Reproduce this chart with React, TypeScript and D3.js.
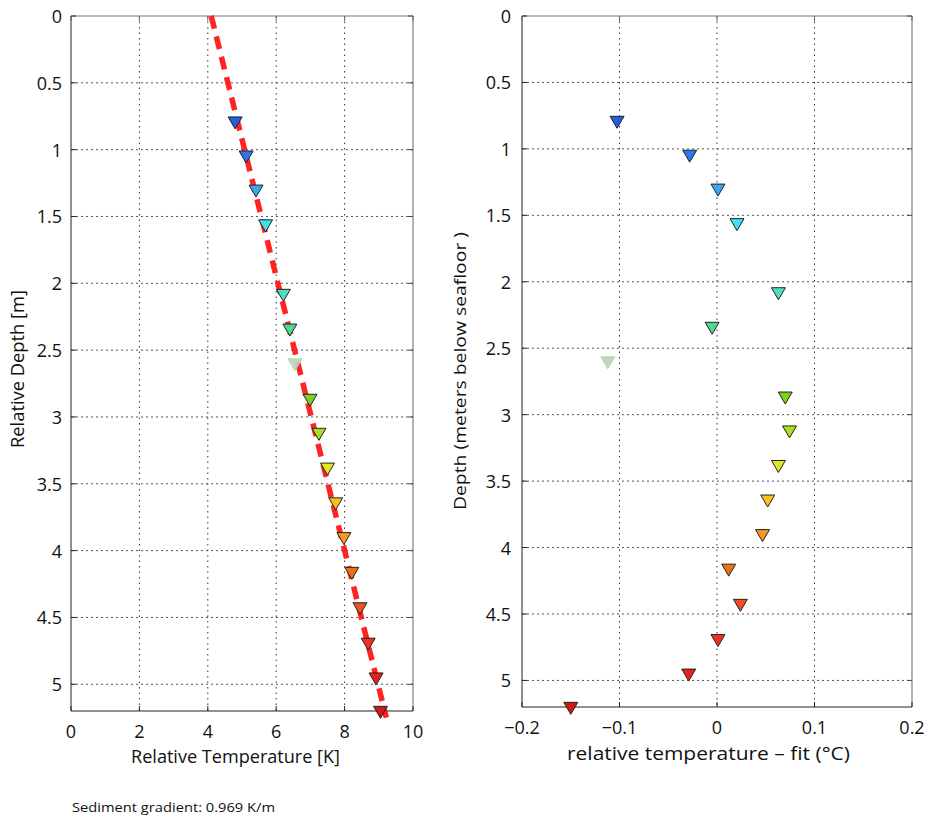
import React from "react";
import * as d3 from "d3";

// ---- data ----
const depths = [0.8, 1.055, 1.31, 1.57, 2.09, 2.35, 2.61, 2.875, 3.13, 3.39, 3.65, 3.91, 4.17, 4.435, 4.7, 4.96, 5.21];
const temps = [4.8, 5.12, 5.41, 5.69, 6.21, 6.4, 6.55, 6.99, 7.25, 7.5, 7.74, 7.98, 8.21, 8.45, 8.69, 8.92, 9.05];
const residuals = [-0.1025, -0.028, 0.001, 0.0205, 0.063, -0.005, -0.112, 0.07, 0.0744, 0.063, 0.052, 0.0467, 0.012, 0.024, 0.001, -0.029, -0.15];
const excluded = [false, false, false, false, false, false, true, false, false, false, false, false, false, false, false, false, false];
const markerColors = [
  "#1f5fe0", "#2a78ee", "#3aa8ee", "#40e0ee", "#50e0c0", "#4ed890", "#c8c8c8", "#7ed020", "#a8e020",
  "#e0e820", "#f8c020", "#f89820", "#f07018", "#f05020", "#f03028", "#e82020", "#d01818",
];
const fitDepths = [0, 5.25];
const fitTemps = [4.1, 9.22];

const depthTicks = [0, 0.5, 1, 1.5, 2, 2.5, 3, 3.5, 4, 4.5, 5];
const tempTicks = [0, 2, 4, 6, 8, 10];
const residTicks = [-0.2, -0.1, 0, 0.1, 0.2];
const residTickLabels = ["\u22120.2", "\u22120.1", "0", "0.1", "0.2"];

const leftXLabel = "Relative Temperature [K]";
const leftYLabel = "Relative Depth [m]";
const rightXLabel = "relative temperature \u2013 fit (\u00B0C)";
const rightYLabel = "Depth (meters below seafloor )";
const note = "Sediment gradient: 0.969 K/m";

const FONT = "'Open Sans', 'Noto Sans', sans-serif";

const tri = "M-7,-6L7,-6L0,6Z";

function Panel({ x, y, xTicks, xTickLabels, xLabel, yLabel, yLabelX, yLabelY, yLabelLen, yLabelSize, xLabelY, xLabelX, xLabelLen, xLabelSize, tickLabelY, yTickX, children }: any) {
  const [x0, x1] = x.range();
  const [y0, y1] = y.range();
  return (
    <g>
      {/* grid */}
      {xTicks.filter((t: number) => x(t) > x0 + 1 && x(t) < x1 - 1).map((t: number) => (
        <line key={"gx" + t} x1={x(t)} x2={x(t)} y1={y0} y2={y1} stroke="#333" strokeWidth={1} strokeDasharray="1.5,4" />
      ))}
      {depthTicks.filter((t) => y(t) > y0 + 1 && y(t) < y1 - 1).map((t) => (
        <line key={"gy" + t} x1={x0} x2={x1} y1={y(t)} y2={y(t)} stroke="#555" strokeWidth={1} strokeDasharray="2,3" />
      ))}
      {/* frame */}
      <line x1={x0} x2={x1} y1={y0} y2={y0} stroke="#777" strokeWidth={1} />
      <line x1={x1} x2={x1} y1={y0} y2={y1} stroke="#666" strokeWidth={1} />
      <line x1={x0} x2={x0} y1={y0} y2={y1} stroke="#222" strokeWidth={1} />
      <line x1={x0} x2={x1} y1={y1} y2={y1} stroke="#222" strokeWidth={1} />
      {/* ticks */}
      {xTicks.map((t: number) => (
        <g key={"tx" + t}>
          <line x1={x(t)} x2={x(t)} y1={y1} y2={y1 - 5} stroke="#222" />
          <line x1={x(t)} x2={x(t)} y1={y0} y2={y0 + 5} stroke="#666" />
        </g>
      ))}
      {depthTicks.map((t) => (
        <g key={"ty" + t}>
          <line x1={x0} x2={x0 + 5} y1={y(t)} y2={y(t)} stroke="#222" />
          <line x1={x1} x2={x1 - 5} y1={y(t)} y2={y(t)} stroke="#444" />
        </g>
      ))}
      {children}
      {/* tick labels */}
      {xTicks.map((t: number, i: number) => (
        <text key={"lx" + t} x={x(t)} y={tickLabelY} textAnchor="middle" dominantBaseline="central" fontSize={18} fontFamily={FONT} fill="#111">
          {xTickLabels[i]}
        </text>
      ))}
      {depthTicks.map((t) => (
        <text key={"ly" + t} x={yTickX} y={y(t)} textAnchor="end" dominantBaseline="central" fontSize={18} fontFamily={FONT} fill="#111">
          {String(t)}
        </text>
      ))}
      <text x={xLabelX} y={xLabelY} textAnchor="middle" dominantBaseline="central" fontSize={xLabelSize} fontFamily={FONT} fill="#111" textLength={xLabelLen} lengthAdjust="spacingAndGlyphs">
        {xLabel}
      </text>
      <text transform={`translate(${yLabelX},${yLabelY}) rotate(-90)`} textAnchor="middle" dominantBaseline="central" fontSize={yLabelSize} fontFamily={FONT} fill="#111" textLength={yLabelLen} lengthAdjust="spacingAndGlyphs">
        {yLabel}
      </text>
    </g>
  );
}

export default function App() {
  const xL = d3.scaleLinear().domain([0, 10]).range([71, 413]);
  const yL = d3.scaleLinear().domain([0, 5.2]).range([16, 711]);
  const xR = d3.scaleLinear().domain([-0.2, 0.2]).range([522, 912]);
  const yR = d3.scaleLinear().domain([0, 5.2]).range([16, 707]);

  const fitPts: [number, number][] = fitDepths.map((d, i) => [fitTemps[i], d]);
  const fitPath = d3.line<[number, number]>().x((p) => xL(p[0])).y((p) => yL(p[1]))(fitPts) || "";

  const markers = (xs: number[], x: any, y: any) =>
    depths.map((d, i) => (
      <path
        key={i}
        d={tri}
        transform={`translate(${x(xs[i])},${y(d)})`}
        fill={markerColors[i]}
        stroke={excluded[i] ? "#90ee90" : "#222"}
        strokeWidth={1}
        fillOpacity={excluded[i] ? 0.9 : 1}
      />
    ));

  return (
    <svg width={926} height={818} style={{ position: "absolute", left: 0, top: 0, background: "#fff" }}>
      <rect width={926} height={818} fill="#fff" />
      <Panel
        x={xL}
        y={yL}
        xTicks={tempTicks}
        xTickLabels={tempTicks.map(String)}
        xLabel={leftXLabel}
        yLabel={leftYLabel}
        yLabelX={17}
        yLabelY={369}
        yLabelLen={158}
        yLabelSize={18}
        xLabelX={235.5}
        xLabelY={756}
        xLabelLen={209}
        xLabelSize={18}
        tickLabelY={731}
        yTickX={62}
      >
        <path d={fitPath} fill="none" stroke="#ff1010" strokeWidth={5.5} strokeDasharray="13,8" opacity={0.92} />
        {markers(temps, xL, yL)}
      </Panel>
      <Panel
        x={xR}
        y={yR}
        xTicks={residTicks}
        xTickLabels={residTickLabels}
        xLabel={rightXLabel}
        yLabel={rightYLabel}
        yLabelX={459}
        yLabelY={371}
        yLabelLen={278}
        yLabelSize={17}
        xLabelX={708.5}
        xLabelY={753}
        xLabelLen={283}
        xLabelSize={19}
        tickLabelY={727}
        yTickX={511}
      >
        {markers(residuals, xR, yR)}
      </Panel>
      <text x={72} y={812} fontSize={13} fontFamily={FONT} fill="#111" textLength={203} lengthAdjust="spacingAndGlyphs">
        {note}
      </text>
    </svg>
  );
}
